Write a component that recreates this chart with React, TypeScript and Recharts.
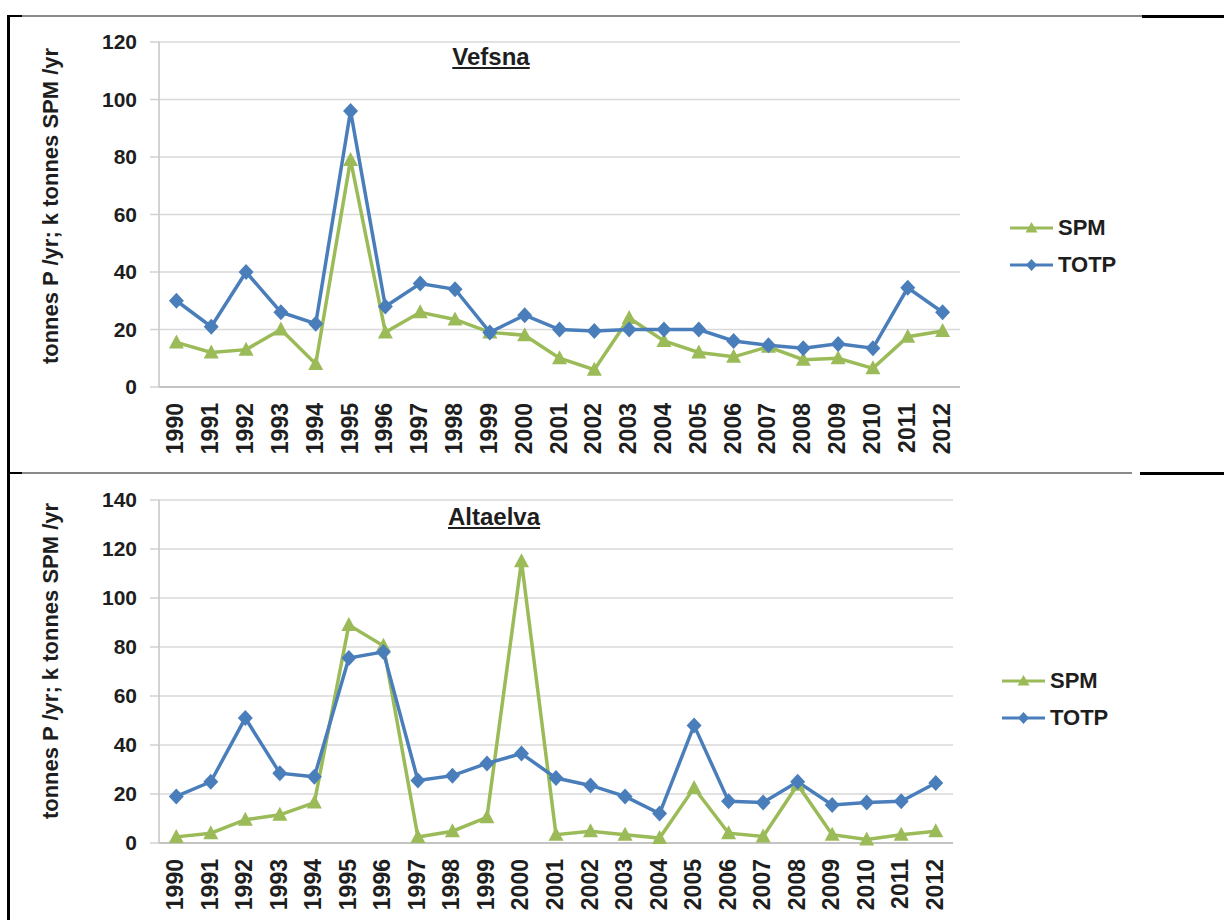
import React from 'react';
import { LineChart, Line, XAxis, YAxis, CartesianGrid, Legend } from 'recharts';

const years = ['1990','1991','1992','1993','1994','1995','1996','1997','1998','1999','2000','2001','2002','2003','2004','2005','2006','2007','2008','2009','2010','2011','2012'];

const vefsnaSPM = [15.5, 12, 13, 20, 8, 79, 19, 26, 23.5, 19, 18, 10, 6, 24, 16, 12, 10.5, 14, 9.5, 10, 6.5, 17.5, 19.5];
const vefsnaTOTP = [30, 21, 40, 26, 22, 96, 28, 36, 34, 19, 25, 20, 19.5, 20, 20, 20, 16, 14.5, 13.5, 15, 13.5, 34.5, 26];

const altaSPM = [2.5, 4, 9.5, 11.5, 16.5, 89, 80.5, 2.5, 4.8, 10.5, 115, 3.4, 4.8, 3.4, 2, 22.5, 4, 2.7, 23.8, 3.4, 1.4, 3.4, 4.8];
const altaTOTP = [19, 25, 51, 28.5, 27, 75.5, 78, 25.5, 27.5, 32.5, 36.5, 26.5, 23.5, 19, 12, 48, 17, 16.5, 25, 15.5, 16.5, 17, 24.5];

const vefsnaTicks = [0, 20, 40, 60, 80, 100, 120];
const altaTicks = [0, 20, 40, 60, 80, 100, 120, 140];

const yLabel = 'tonnes P /yr;  k tonnes SPM /yr';
const FONT = '"Liberation Sans", Arial, Helvetica, sans-serif';
const GREEN = '#9bbb59';
const BLUE = '#4a7ebb';
const TEXT = '#1e1e1e';

const vefsnaData = years.map((y, i) => ({ year: y, SPM: vefsnaSPM[i], TOTP: vefsnaTOTP[i] }));
const altaData = years.map((y, i) => ({ year: y, SPM: altaSPM[i], TOTP: altaTOTP[i] }));

const triangle = (props: any) => {
  const { cx, cy, index } = props;
  if (cx == null || cy == null) return <g key={`t${index}`} />;
  return (
    <polygon
      key={`t${index}`}
      points={`${cx},${cy - 8} ${cx + 7.5},${cy + 6} ${cx - 7.5},${cy + 6}`}
      fill={GREEN}
    />
  );
};

const diamond = (props: any) => {
  const { cx, cy, index } = props;
  if (cx == null || cy == null) return <g key={`d${index}`} />;
  return (
    <polygon
      key={`d${index}`}
      points={`${cx},${cy - 8} ${cx + 7.5},${cy} ${cx},${cy + 8} ${cx - 7.5},${cy}`}
      fill={BLUE}
    />
  );
};

const XTick = (props: any) => {
  const { x, y, payload } = props;
  return (
    <text
      transform={`translate(${x - 1},${y}) rotate(-90)`}
      textAnchor="end"
      dominantBaseline="central"
      fontSize={23}
      fontWeight="bold"
      fill={TEXT}
      fontFamily={FONT}
    >
      {payload.value}
    </text>
  );
};

const LegendContent = (props: any) => {
  const payload = props.payload || [];
  return (
    <div style={{ fontFamily: FONT }}>
      {payload.map((p: any) => (
        <div key={p.value} style={{ display: 'flex', alignItems: 'center', height: 37 }}>
          <svg width={47} height={20} style={{ display: 'block' }}>
            <line x1={2} y1={10} x2={45} y2={10} stroke={p.color} strokeWidth={3} />
            {p.value === 'SPM' ? (
              <polygon points="23.5,4 29.5,14.5 17.5,14.5" fill={p.color} />
            ) : (
              <polygon points="23.5,4 29,10 23.5,16 18,10" fill={p.color} />
            )}
          </svg>
          <span style={{ fontSize: 22, fontWeight: 'bold', color: TEXT, marginLeft: 3, lineHeight: '22px' }}>
            {p.value}
          </span>
        </div>
      ))}
    </div>
  );
};

const makeYLabel = (cy: number) => (props: any) => (
  <text
    x={50}
    y={cy}
    transform={`rotate(-90, 50, ${cy})`}
    textAnchor="middle"
    dominantBaseline="central"
    fontSize={22}
    fontWeight="bold"
    fill={TEXT}
    fontFamily={FONT}
  >
    {yLabel}
  </text>
);

type PanelProps = {
  data: any[];
  ticks: number[];
  max: number;
  height: number;
  marginTop: number;
  marginRight: number;
  xHeight: number;
  labelY: number;
  legendLeft: number;
  legendTop: number;
};

const Panel = ({ data, ticks, max, height, marginTop, marginRight, xHeight, labelY, legendLeft, legendTop }: PanelProps) => (
  <LineChart
    width={1224}
    height={height}
    data={data}
    margin={{ top: marginTop, right: marginRight, bottom: 0, left: 99 }}
  >
    <CartesianGrid vertical={false} stroke="#d9d9d9" strokeWidth={1.5} />
    <XAxis
      dataKey="year"
      scale="band"
      height={xHeight}
      interval={0}
      axisLine={{ stroke: '#b8b8b8', strokeWidth: 1.5 }}
      tickLine={false}
      tickSize={0}
      tickMargin={16}
      tick={<XTick />}
    />
    <YAxis
      width={60}
      domain={[0, max]}
      ticks={ticks}
      interval={0}
      axisLine={{ stroke: '#c4c4c4', strokeWidth: 1.5 }}
      tickLine={{ stroke: '#d0d0d0', strokeWidth: 1.5 }}
      tickSize={9}
      tickMargin={13}
      tick={{ fontSize: 21, fontWeight: 'bold', fill: TEXT, fontFamily: FONT }}
      label={makeYLabel(labelY)}
    />
    <Legend
      layout="horizontal"
      verticalAlign="middle"
      align="center"
      wrapperStyle={{ left: legendLeft, top: legendTop, width: 130 }}
      content={<LegendContent />}
    />
    <Line
      dataKey="SPM"
      name="SPM"
      stroke={GREEN}
      strokeWidth={3.5}
      dot={triangle}
      activeDot={false}
      isAnimationActive={false}
    />
    <Line
      dataKey="TOTP"
      name="TOTP"
      stroke={BLUE}
      strokeWidth={3.5}
      dot={diamond}
      activeDot={false}
      isAnimationActive={false}
    />
  </LineChart>
);

const titleStyle: React.CSSProperties = {
  position: 'absolute',
  fontFamily: FONT,
  fontSize: 24,
  fontWeight: 'bold',
  textDecoration: 'underline',
  color: TEXT,
  lineHeight: '26px',
  whiteSpace: 'nowrap',
  transform: 'translateX(-50%)',
};

const bar = (left: number, top: number, width: number, height: number, color: string): React.CSSProperties => ({
  position: 'absolute',
  left,
  top,
  width,
  height,
  background: color,
});

export default function App() {
  return (
    <div style={{ position: 'absolute', left: 0, top: 0, width: 1224, height: 920, background: '#fff', overflow: 'hidden' }}>
      <div style={{ position: 'absolute', left: 0, top: 0 }}>
        <Panel
          data={vefsnaData}
          ticks={vefsnaTicks}
          max={120}
          height={473}
          marginTop={42}
          marginRight={264}
          xHeight={86}
          labelY={206}
          legendLeft={1008}
          legendTop={209}
        />
      </div>
      <div style={{ position: 'absolute', left: 0, top: 473 }}>
        <Panel
          data={altaData}
          ticks={altaTicks}
          max={140}
          height={447}
          marginTop={27}
          marginRight={271}
          xHeight={77}
          labelY={188}
          legendLeft={1000}
          legendTop={189}
        />
      </div>
      <div style={{ ...titleStyle, left: 491, top: 44 }}>Vefsna</div>
      <div style={{ ...titleStyle, left: 494, top: 504 }}>Altaelva</div>

      <div style={bar(7, 15, 3, 905, '#000')} />
      <div style={bar(7, 15, 15, 2, '#000')} />
      <div style={bar(22, 15, 1120, 2, '#8a8a8a')} />
      <div style={bar(1142, 15, 82, 3, '#000')} />
      <div style={bar(7, 472, 15, 2, '#000')} />
      <div style={bar(22, 472, 1110, 2, '#8a8a8a')} />
      <div style={bar(1140, 472, 84, 3, '#000')} />
    </div>
  );
}
